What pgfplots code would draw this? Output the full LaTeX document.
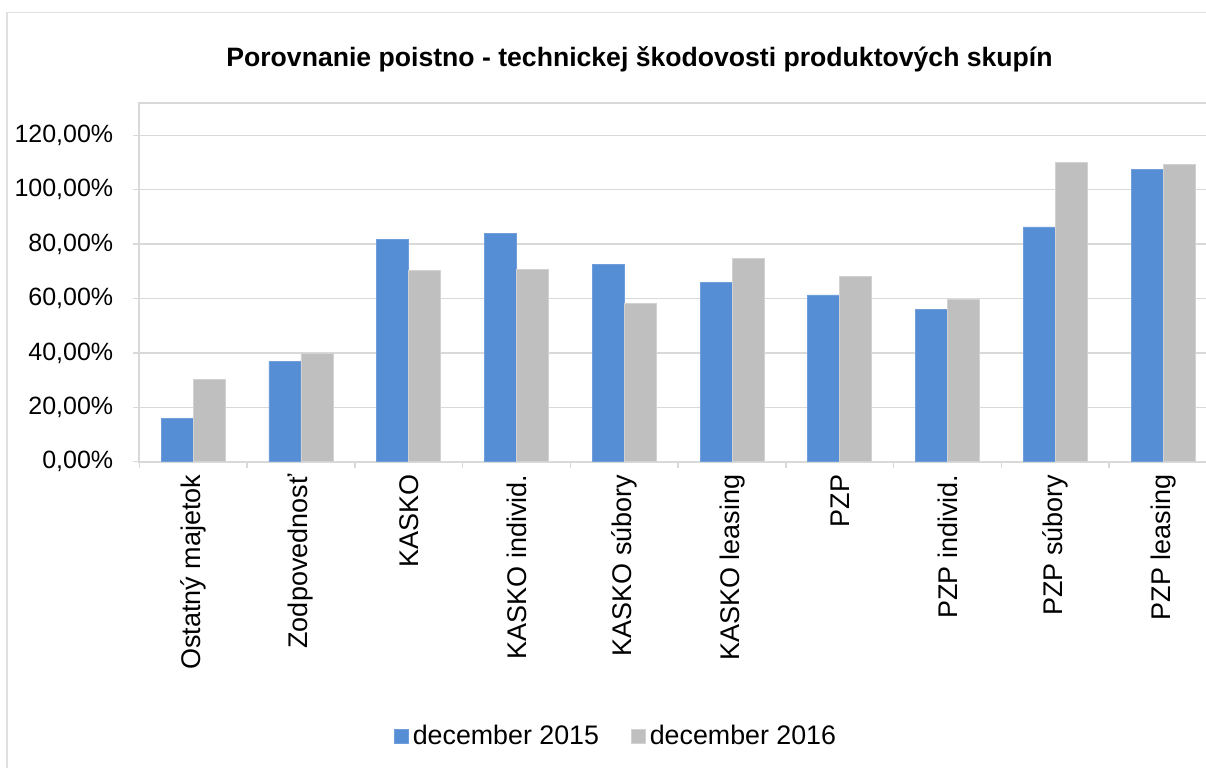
\documentclass[border=0pt]{standalone}
\usepackage{fontspec}
\setmainfont{Liberation Sans}
\usepackage{pgfplots}
\pgfplotsset{compat=1.18}
\definecolor{cblue}{HTML}{558ED5}
\definecolor{cgray}{HTML}{BFBFBF}
\definecolor{cgrid}{HTML}{D9D9D9}
\definecolor{cframe}{HTML}{E0E0E0}
\begin{document}
\begin{tikzpicture}[x=1pt,y=1pt]
\begin{scope}
\clip (0,0) rectangle (603,383.5);
\draw[cframe, line width=0.75pt] (3.4,-10) -- (3.4,377.15) -- (700,377.15);
\node[anchor=base, font=\fontsize{13.3}{16}\selectfont\bfseries] at (319.75,350.15) {Porovnanie poistno - technickej škodovosti produktových skupín};
\begin{axis}[
  at={(69.65pt,152.65pt)}, anchor=south west,
  scale only axis, width=538.85pt, height=179.5pt,
  xmin=-0.5, xmax=9.5, ymin=0, ymax=132,
  ybar=0pt, bar width=16pt,
  axis line style={cgrid, line width=1pt},
  ymajorgrids, grid style={cgrid, line width=0.75pt},
  tick style={cgrid, line width=0.75pt},
  tick align=outside,
  xtick pos=bottom, ytick pos=left,
  xtick={0,...,9},
  xticklabels={Ostatný majetok, Zodpovednosť, KASKO, KASKO individ., KASKO súbory, KASKO leasing, PZP, PZP individ., PZP súbory, PZP leasing},
  x tick style={draw=none},
  minor xtick={-0.5,0.5,...,9.5},
  minor x tick style={cgrid, line width=0.75pt, draw=cgrid},
  minor tick length=3pt,
  major tick length=3pt,
  xticklabel style={rotate=90, anchor=east, font=\fontsize{13.5}{16}\selectfont, text=black},
  ytick={0,20,...,120},
  yticklabel={\pgfmathprintnumber[fixed,fixed zerofill,precision=2,use comma]{\tick}\%},
  yticklabel style={font=\fontsize{12.5}{15}\selectfont, text=black, xshift=-6.5pt},
  /pgf/number format/assume math mode=true,
  legend style={at={(0.4433,-0.764)}, anchor=center, draw=none, legend columns=2,
    font=\fontsize{13.4}{16}\selectfont, column sep=0pt,
    /tikz/every even column/.append style={column sep=14pt}},
  legend image code/.code={\fill[#1] (0pt,-3.5pt) rectangle (7pt,3.5pt);},
  legend cell align=left,
]
\addplot[fill=cblue, draw=cblue!85!white, line width=0.4pt] coordinates {
 (0,15.9) (1,36.7) (2,81.7) (3,83.9) (4,72.6) (5,66.0) (6,61.3) (7,56.0) (8,86.3) (9,107.6)};
\addplot[fill=cgray, draw=cgray!70!white, line width=0.4pt] coordinates {
 (0,30.1) (1,39.8) (2,70.2) (3,70.8) (4,58.2) (5,74.6) (6,68.1) (7,59.8) (8,110.0) (9,109.2)};
\legend{december 2015, december 2016}
\end{axis}
\end{scope}
\pgfresetboundingbox
\useasboundingbox (0,0) rectangle (603,383.5);
\end{tikzpicture}
\end{document}
